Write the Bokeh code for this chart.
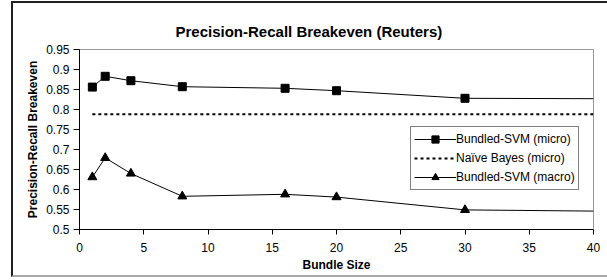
from bokeh.plotting import figure
from bokeh.models import Range1d, FixedTicker, Legend, LegendItem, InlineStyleSheet
from bokeh.embed import file_html
from bokeh.resources import INLINE

bundle_micro = [1, 2, 4, 8, 16, 20, 30, 40]
svm_micro = [0.856, 0.883, 0.872, 0.857, 0.853, 0.847, 0.828, 0.827]
nb_x = [1, 40]
nb_micro = [0.788, 0.788]
bundle_macro = [1, 2, 4, 8, 16, 20, 30, 40]
svm_macro = [0.631, 0.679, 0.640, 0.583, 0.588, 0.581, 0.549, 0.546]
marker_x = [1, 2, 4, 8, 16, 20, 30]

y_ticks = [0.5, 0.55, 0.6, 0.65, 0.7, 0.75, 0.8, 0.85, 0.9, 0.95]
y_labels = ["0.5", "0.55", "0.6", "0.65", "0.7", "0.75", "0.8", "0.85", "0.9", "0.95"]
x_ticks = [0, 5, 10, 15, 20, 25, 30, 35, 40]

FONT = "Liberation Sans"

p = figure(width=607, height=280, output_backend="svg", toolbar_location=None,
           x_range=Range1d(0, 40), y_range=Range1d(0.5, 0.95),
           min_border_left=79, min_border_right=14, min_border_top=49, min_border_bottom=51,
           title="Precision-Recall Breakeven (Reuters)")
p.title.text_font = FONT
p.title.text_font_size = "15px"
p.title.text_font_style = "bold"
p.title.text_color = "black"
p.title.align = "left"
p.title.offset = 96
p.title.standoff = 20
p.xgrid.visible = False
p.ygrid.visible = False
p.outline_line_color = "#999999"
p.background_fill_color = "white"
p.border_fill_color = "white"

for ax in (p.xaxis[0], p.yaxis[0]):
    ax.axis_line_color = "black"
    ax.major_tick_line_color = "black"
    ax.minor_tick_line_color = None
    ax.major_tick_in = 0
    ax.major_label_text_font = FONT
    ax.major_label_text_font_size = "12px"
    ax.major_label_text_color = "black"
    ax.axis_label_text_font = FONT
    ax.axis_label_text_font_size = "12px"
    ax.axis_label_text_font_style = "bold"
    ax.axis_label_text_color = "black"

p.xaxis.ticker = FixedTicker(ticks=x_ticks)
p.xaxis.major_tick_out = 5
p.xaxis.major_label_standoff = 8
p.xaxis.axis_label = "Bundle Size"
p.xaxis.axis_label_standoff = 3

p.yaxis.ticker = FixedTicker(ticks=y_ticks)
p.yaxis.major_label_overrides = {t: l for t, l in zip(y_ticks, y_labels)}
p.yaxis.major_tick_out = 6
p.yaxis.major_label_standoff = 4
p.yaxis.axis_label = "Precision-Recall Breakeven"
p.yaxis.axis_label_standoff = 3

r1 = p.line(bundle_micro, svm_micro, line_color="black", line_width=1)
m1 = p.scatter(marker_x, svm_micro[:len(marker_x)], marker="square", size=8,
               fill_color="black", line_color="black")
r2 = p.line(nb_x, nb_micro, line_color="black", line_width=2, line_dash="3 3")
r3 = p.line(bundle_macro, svm_macro, line_color="black", line_width=1)
m3 = p.scatter(marker_x, svm_macro[:len(marker_x)], marker="triangle", size=9,
               fill_color="black", line_color="black")

legend = Legend(items=[
    LegendItem(label="Bundled-SVM (micro)", renderers=[r1, m1]),
    LegendItem(label="Naïve Bayes (micro)", renderers=[r2]),
    LegendItem(label="Bundled-SVM (macro)", renderers=[r3, m3]),
], location=(331, 39))
legend.label_text_font = FONT
legend.label_text_font_size = "12px"
legend.label_text_color = "black"
legend.glyph_width = 42
legend.glyph_height = 18
legend.label_height = 18
legend.label_standoff = 0
legend.spacing = 1
legend.padding = 3
legend.margin = 0
legend.border_line_color = "black"
legend.border_line_width = 1
legend.background_fill_alpha = 1
p.add_layout(legend, "center")

frame_css = InlineStyleSheet(css="""
:host { position: relative; }
:host::after {
  content: "";
  position: absolute;
  left: 11px; top: 1px; width: 620px; height: 276px;
  border-left: 2px solid #202020;
  border-top: 2px solid #202020;
  border-bottom: 2px solid #a8a8a8;
  pointer-events: none;
  box-sizing: border-box;
}
""")
p.stylesheets = [frame_css]

open("out.html", "w").write(file_html(p, INLINE))
